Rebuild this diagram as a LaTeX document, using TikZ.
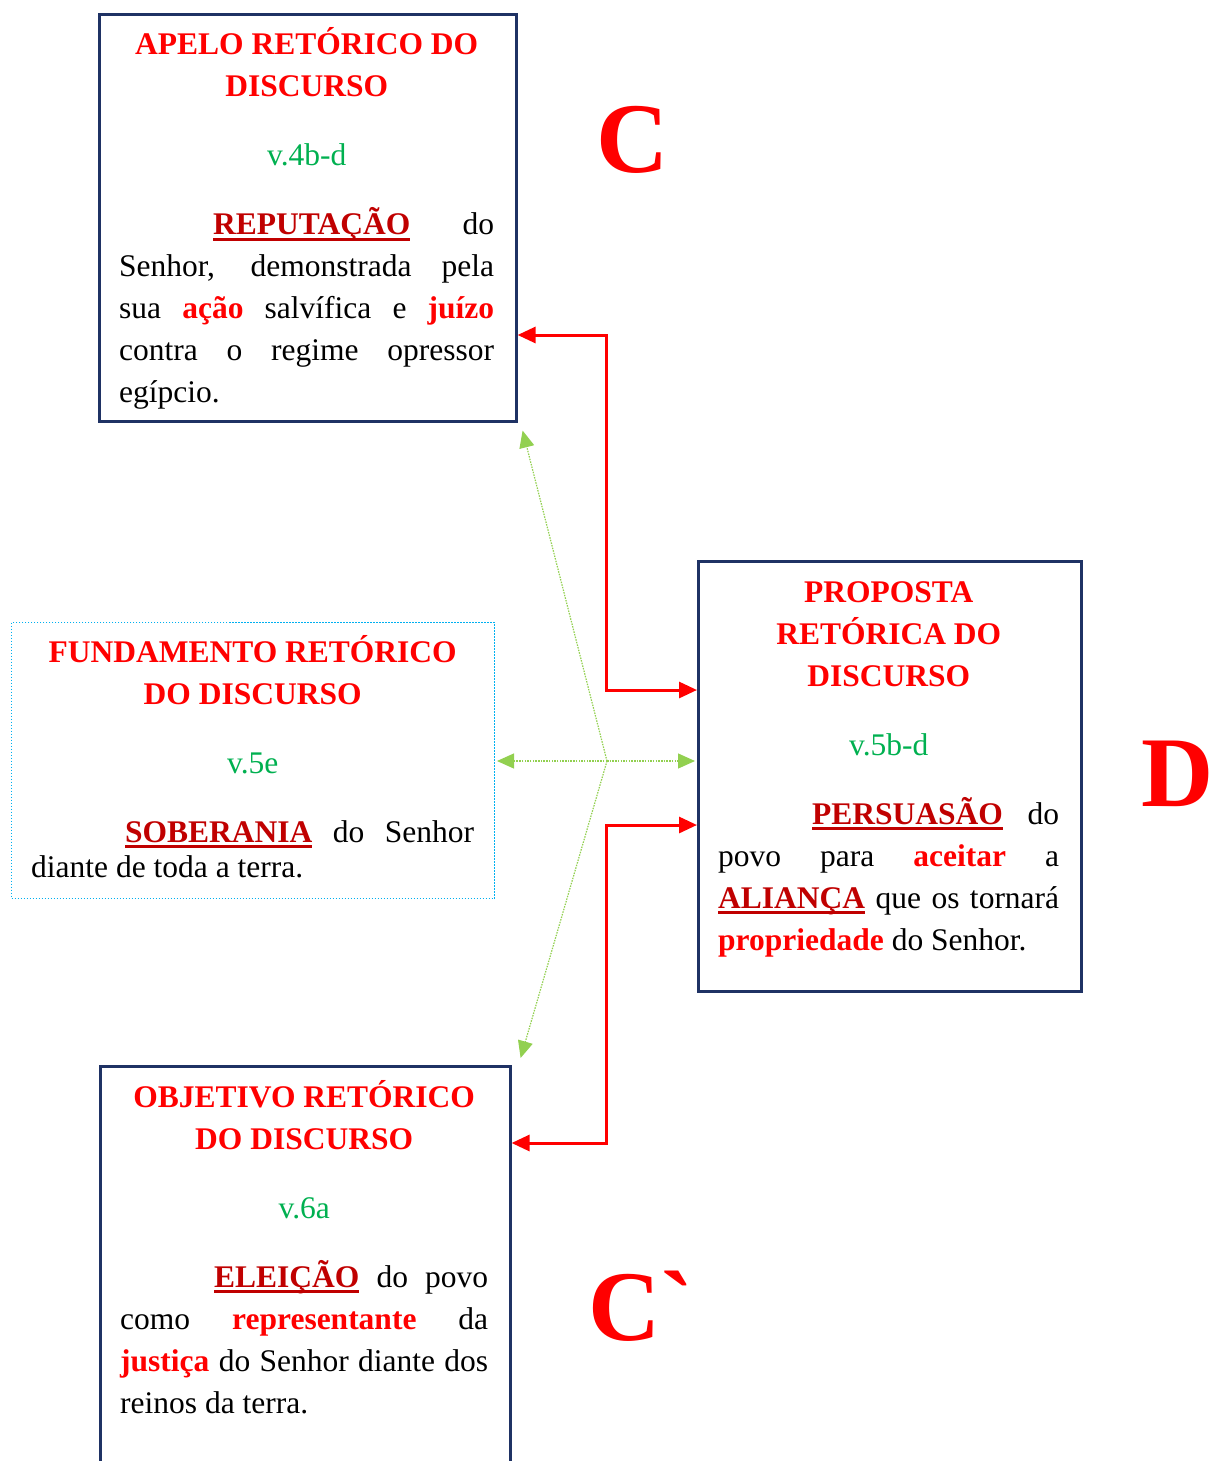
\documentclass[tikz,border=0pt]{standalone}
\usepackage{fontspec}
\setmainfont{Liberation Serif}
\newfontfamily\crase[Ligatures=TeXOff]{Liberation Serif}
\usetikzlibrary{arrows.meta,positioning}

\definecolor{vermelho}{RGB}{255,0,0}
\definecolor{escuro}{RGB}{192,0,0}
\definecolor{verde}{RGB}{0,176,80}
\definecolor{marinho}{RGB}{31,50,100}
\definecolor{ciano}{RGB}{0,176,240}
\definecolor{folha}{RGB}{146,208,80}

\newcommand\titulo[1]{{\centering\bfseries\color{vermelho}#1\par}\vspace{27pt}}
\newcommand\versiculo[1]{{\centering\color{verde}#1\par}\vspace{27pt}}
\newcommand\chave[1]{\leavevmode{\bfseries\color{escuro}\setbox0\hbox{#1}\rlap{\rule[-6pt]{\wd0}{3pt}}\box0}}
\newcommand\realce[1]{{\bfseries\color{vermelho}#1}}
\newcommand\recuo{\hspace*{94pt}}

\tikzset{
  quadro/.style={draw=marinho, line width=2.6pt, anchor=north west, inner sep=0pt},
  quadroleve/.style={draw=ciano, line width=1pt, dash pattern=on 1.5pt off 1.5pt, anchor=north west, inner sep=0pt},
  texto/.style={text width=#1, align=justify, inner sep=0pt, anchor=base west, font=\fontsize{31.5}{42}\selectfont},
  letra/.style={text=vermelho, font=\fontsize{100}{100}\selectfont\bfseries, inner sep=0pt, anchor=base},
  ligacao/.style={draw=vermelho, line width=3pt, {Triangle[length=18pt,width=16pt]}-{Triangle[length=18pt,width=16pt]}},
  ponte/.style={draw=folha, line width=1.2pt, dash pattern=on 1.5pt off 1.2pt, -{Triangle[length=17pt,width=15pt]}},
}

\begin{document}
\begin{tikzpicture}[x=1pt,y=-1pt]
  \useasboundingbox (0,0) rectangle (1212,1461);
  %
  \node[quadro, minimum width=417pt, minimum height=407pt] (apelo) at (98,13) {};
  \node[quadroleve, minimum width=483pt, minimum height=276pt] (fundamento) at (11,622) {};
  \node[quadro, minimum width=383pt, minimum height=430pt] (proposta) at (697,560) {};
  \node[quadro, minimum width=410pt, minimum height=430pt] (objetivo) at (99,1065) {};
  %
  \node[texto=375pt] (apelo-txt) at (119,55) {
    \titulo{APELO RETÓRICO DO\\ DISCURSO}
    \versiculo{v.4b-d}
    \recuo\chave{REPUTAÇÃO} do\linebreak
    Senhor, demonstrada pela\linebreak
    sua \realce{ação} salvífica e \realce{juízo}\linebreak
    contra o regime opressor\linebreak
    egípcio.};
  \node[texto=443pt] (fundamento-txt) at (31,662) {
    \titulo{FUNDAMENTO RETÓRICO\\ DO DISCURSO}
    \versiculo{v.5e}
    \vspace{7pt}{\fontsize{31.5}{35}\selectfont
    \recuo\chave{SOBERANIA} do Senhor\linebreak
    diante de toda a terra.\par}};
  \node[texto=341pt] (proposta-txt) at (718,602) {
    \titulo{PROPOSTA\\ RETÓRICA DO\\ DISCURSO}
    \versiculo{v.5b-d}
    \recuo\chave{PERSUASÃO} do\linebreak
    povo para \realce{aceitar} a\linebreak
    \chave{ALIANÇA} que os tornará\linebreak
    \realce{propriedade} do Senhor.};
  \node[texto=368pt] (objetivo-txt) at (120,1107) {
    \titulo{OBJETIVO RETÓRICO\\ DO DISCURSO}
    \versiculo{v.6a}
    \recuo\chave{ELEIÇÃO} do povo\linebreak
    como \realce{representante} da\linebreak
    \realce{justiça} do Senhor diante dos\linebreak
    reinos da terra.};
  %
  \node[letra] (c) at (633,172) {C};
  \node[letra] (d) at (1178,806) {D};
  \node[letra] (c-linha) at (641,1340) {C{\crase\symbol{96}}};
  %
  \coordinate (r1) at (606,335);
  \coordinate (r2) at (606,690);
  \coordinate (r3) at (606,825);
  \coordinate (r4) at (606,1143);
  \draw[ligacao] (r1 -| apelo.east) -- (r1) -- (r2) -- (r2 -| proposta.west);
  \draw[ligacao] (r3 -| proposta.west) -- (r3) -- (r4) -- (r4 -| objetivo.east);
  %
  \coordinate (centro) at (607,761);
  \draw[ponte] (centro) -- ([shift={(5,8)}]apelo.south east);
  \draw[ponte] (centro) -- ([shift={(2,0)}]centro -| fundamento.east);
  \draw[ponte] (centro) -- ([shift={(-2,0)}]centro -| proposta.west);
  \draw[ponte] (centro) -- ([shift={(9,-7)}]objetivo.north east);
\end{tikzpicture}
\end{document}
